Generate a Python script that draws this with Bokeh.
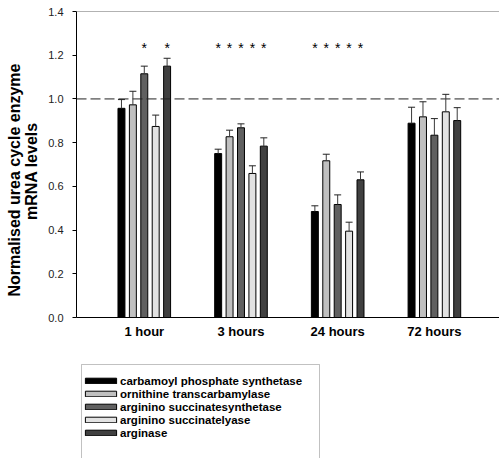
import numpy as np
from bokeh.plotting import figure
from bokeh.layouts import column
from bokeh.models import (ColumnDataSource, Range1d, FixedTicker, Span, Whisker, TeeHead,
                          Legend, LegendItem, NumeralTickFormatter, BoxAnnotation)
from bokeh.core.properties import value
from bokeh.embed import file_html
from bokeh.resources import INLINE

# ---------------- data ----------------
time_points = ["1 hour", "3 hours", "24 hours", "72 hours"]
enzymes = ["carbamoyl phosphate synthetase", "ornithine transcarbamylase",
           "arginino succinatesynthetase", "arginino succinatelyase", "arginase"]
cps = [0.957, 0.750, 0.485, 0.889]
cps_err = [0.040, 0.020, 0.026, 0.073]
otc = [0.973, 0.827, 0.717, 0.918]
otc_err = [0.062, 0.030, 0.030, 0.069]
ass = [1.115, 0.868, 0.517, 0.834]
ass_err = [0.035, 0.018, 0.044, 0.076]
asl = [0.874, 0.659, 0.395, 0.941]
asl_err = [0.052, 0.035, 0.041, 0.080]
arg = [1.150, 0.784, 0.630, 0.901]
arg_err = [0.036, 0.038, 0.036, 0.059]
# enzymes (index) marked significant (*) at each time point
significant = [[2, 4], [0, 1, 2, 3, 4], [0, 1, 2, 3, 4], []]
y_ticks = [0.0, 0.2, 0.4, 0.6, 0.8, 1.0, 1.2, 1.4]
reference_level = 1.0
y_title_lines = ["Normalised urea cycle enzyme", "mRNA levels"]

series = [cps, otc, ass, asl, arg]
errors = [cps_err, otc_err, ass_err, asl_err, arg_err]

# ---------------- style ----------------
FONT = "Liberation Sans"
colors = ["#000000", "#c0c0c0", "#606060", "#e2e2e2", "#404040"]
BAR_STEP = 0.118
BAR_W = 0.072
STAR_Y = 1.232
PX_PER_UNIT = 96.7
FRAME_W = 423
X_START = -0.701
FRAME_LEFT = 76

p = figure(width=499, height=350, output_backend="svg", toolbar_location=None,
           x_range=Range1d(X_START, X_START + FRAME_W / PX_PER_UNIT),
           y_range=Range1d(0, 1.4),
           min_border_left=FRAME_LEFT, min_border_right=0, min_border_top=11, min_border_bottom=33)
p.outline_line_color = None
p.grid.visible = False
p.background_fill_color = "white"
p.border_fill_color = "white"

groups = np.arange(len(time_points))
for i, (vals, errs) in enumerate(zip(series, errors)):
    xs = groups + (i - 2) * BAR_STEP
    src = ColumnDataSource(dict(x=xs, top=vals, upper=np.array(vals) + np.array(errs)))
    p.vbar(x="x", top="top", width=BAR_W, bottom=0, source=src,
           fill_color=colors[i], line_color="black", line_width=1)
    w = Whisker(source=src, base="x", lower="top", upper="upper", dimension="height",
                line_color="#3a3a3a", line_width=1, level="overlay",
                upper_head=TeeHead(size=7, line_color="#222222", line_width=1),
                lower_head=None)
    p.add_layout(w)

# significance asterisks
sx = [g + (e - 2) * BAR_STEP for g, es in enumerate(significant) for e in es]
p.text(x=sx, y=[STAR_Y] * len(sx), text=["*"] * len(sx),
       text_font=value(FONT), text_font_size="14px", text_color="black",
       text_align="center", text_baseline="alphabetic")

# reference line and top frame line
p.add_layout(Span(location=reference_level, dimension="width", line_color="#222222",
                  line_width=1, line_dash="10 4"))
p.add_layout(Span(location=y_ticks[-1], dimension="width", line_color="#666666", line_width=1))

# axes
yax = p.yaxis[0]
yax.ticker = FixedTicker(ticks=y_ticks)
yax.formatter = NumeralTickFormatter(format="0.0")
yax.major_label_text_font = FONT
yax.major_label_text_font_size = "11px"
yax.major_label_text_color = "#222222"
yax.major_tick_in = 0
yax.major_tick_out = 4
yax.minor_tick_line_color = None
yax.major_label_standoff = 9
yax.axis_line_color = "black"
# trailing spaces nudge each (rotated) line slightly downward, as in the original
yax.axis_label = y_title_lines[0] + " " * 7 + "\n" + y_title_lines[1] + " " * 3
yax.axis_label_text_font = FONT
yax.axis_label_text_font_size = "16px"
yax.axis_label_text_line_height = 1.0
yax.axis_label_text_font_style = "bold"
yax.axis_label_text_color = "black"
yax.axis_label_standoff = 5

xax = p.xaxis[0]
xax.ticker = FixedTicker(ticks=list(groups))
xax.major_label_overrides = {int(g): t for g, t in zip(groups, time_points)}
xax.major_label_text_font = FONT
xax.major_label_text_font_size = "13px"
xax.major_label_text_font_style = "bold"
xax.major_label_text_color = "black"
xax.major_tick_line_color = None
xax.major_tick_in = 0
xax.major_tick_out = 0
xax.minor_tick_line_color = None
xax.major_label_standoff = 6
xax.axis_line_color = "black"

# legend panel below the chart; its ranges are in page pixels (x right, y down)
LG_TOP = 350
LG_H = 108
lg = figure(width=499, height=LG_H, output_backend="svg", toolbar_location=None,
            x_range=Range1d(FRAME_LEFT, 499), y_range=Range1d(LG_TOP + LG_H, LG_TOP),
            x_axis_location=None, y_axis_location=None,
            min_border_left=FRAME_LEFT, min_border_right=0, min_border_top=0, min_border_bottom=0)
lg.outline_line_color = None
lg.grid.visible = False
lg.border_fill_color = "white"
lg.background_fill_color = "white"
# legend frame (box runs past the bottom edge, as in the original)
lg.add_layout(BoxAnnotation(left=81, right=319, top=364, bottom=480,
                            fill_color="white", fill_alpha=1,
                            line_color="#333333", line_width=1, level="underlay"))
items = []
for name, c in zip(enzymes, colors):
    # one swatch point placed far outside the visible range: only its legend glyph shows
    r = lg.vbar(x=[5000], top=[5000], bottom=[4999], width=1, fill_color=c,
                line_color="black", line_width=1)
    items.append(LegendItem(label=name, renderers=[r]))
legend = Legend(items=items, location="top_left", orientation="vertical",
                padding=1, spacing=0, margin=5,
                glyph_width=39, glyph_height=7, label_height=13, label_width=180,
                label_standoff=0, label_text_font=FONT, label_text_font_size="11.5px",
                label_text_font_style="bold", label_text_color="black",
                title=" ", title_text_font_size="1px", title_standoff=18,
                border_line_color=None, background_fill_alpha=0)
lg.add_layout(legend, "center")

layout = column(p, lg, spacing=0)
open("out.html", "w").write(file_html(layout, INLINE))
